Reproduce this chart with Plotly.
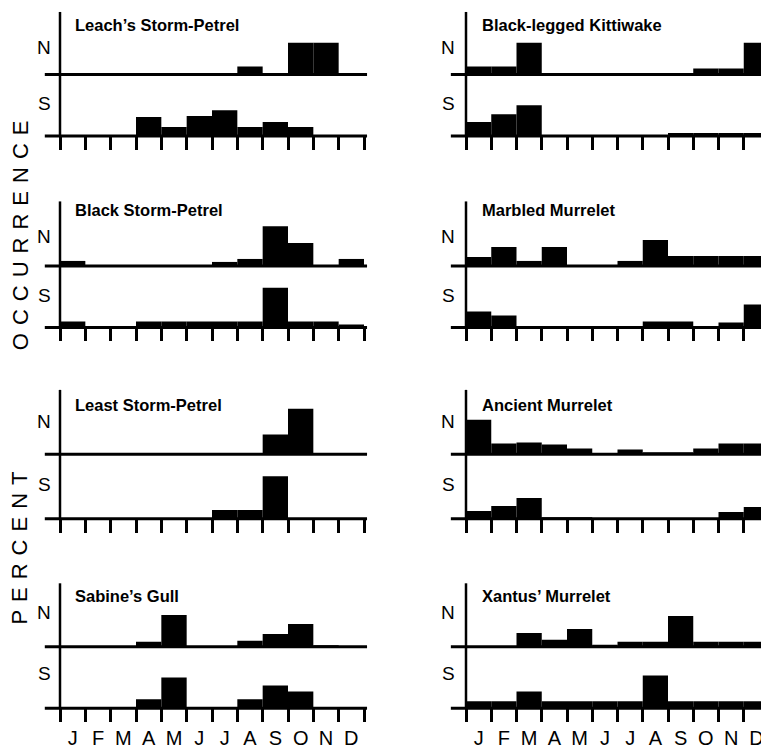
import plotly.graph_objects as go

# ---------------- data (approximate percent occurrence per month) ----------------
months = ["J", "F", "M", "A", "M", "J", "J", "A", "S", "O", "N", "D"]

species_left = ["Leach’s Storm-Petrel", "Black Storm-Petrel", "Least Storm-Petrel", "Sabine’s Gull"]
species_right = ["Black-legged Kittiwake", "Marbled Murrelet", "Ancient Murrelet", "Xantus’ Murrelet"]

leach_n = [0, 0, 0, 0, 0, 0, 0, 8, 0, 32, 32, 0]
leach_s = [0, 0, 0, 19, 9, 20, 26, 9, 14, 9, 0, 0]
black_sp_n = [5, 0, 0, 0, 0, 0, 4, 7, 40, 23, 0, 7]
black_sp_s = [6, 0, 0, 6, 6, 6, 6, 6, 40, 6, 6, 3]
least_n = [0, 0, 0, 0, 0, 0, 0, 0, 20, 46, 0, 0]
least_s = [0, 0, 0, 0, 0, 0, 9, 9, 43, 0, 0, 0]
sabine_n = [0, 0, 0, 5, 32, 0, 0, 6, 13, 23, 1, 0]
sabine_s = [0, 0, 0, 9, 31, 0, 0, 9, 23, 17, 0, 0]

kittiwake_n = [8, 8, 32, 0, 0, 0, 0, 0, 0, 6, 6, 32]
kittiwake_s = [14, 22, 31, 0, 0, 0, 0, 0, 3, 3, 3, 3]
marbled_n = [9, 19, 5, 19, 0, 0, 5, 26, 10, 10, 10, 10]
marbled_s = [16, 12, 1, 1, 1, 1, 1, 6, 6, 0, 5, 23]
ancient_n = [35, 11, 12, 10, 6, 1, 5, 2, 2, 6, 11, 11]
ancient_s = [8, 13, 21, 1, 1, 0, 0, 0, 0, 0, 7, 12]
xantus_n = [0, 0, 14, 7, 18, 2, 5, 5, 31, 5, 5, 5]
xantus_s = [7, 7, 17, 7, 7, 7, 7, 33, 7, 7, 7, 7]

left_n = [leach_n, black_sp_n, least_n, sabine_n]
left_s = [leach_s, black_sp_s, least_s, sabine_s]
right_n = [kittiwake_n, marbled_n, ancient_n, xantus_n]
right_s = [kittiwake_s, marbled_s, ancient_s, xantus_s]

# ---------------- layout geometry (page pixels) ----------------
PAGE_W, PAGE_H = 769, 749
OFF = 8                       # default page margin around the plot div
W, H = PAGE_W - OFF, PAGE_H - OFF
FONT = "Liberation Sans, Arial, Helvetica, sans-serif"


def px(p):
    return (p - OFF) / W


def py(p):
    return 1 - (p - OFF) / H


col_x = [(60, 364), (466, 769)]
panel_top = [12, 203, 393, 588]
n_base = [75, 268, 458, 652]
s_base = [137, 330, 523, 714]
n_lab_y = [48, 238, 425, 617]
s_lab_y = [104, 298, 488, 679]
title_y = [25.5, 211.5, 408.5, 600.5]
title_x = [73, 480]
ns_x = [44, 448]

centers = [i + 0.5 for i in range(12)]

fig = go.Figure()
layout = dict(
    width=W, height=H, margin=dict(l=0, r=0, t=0, b=0),
    paper_bgcolor="white", plot_bgcolor="white", showlegend=False,
    font=dict(family=FONT, color="black"),
)
shapes = []
annotations = []

k = 0
for c in range(2):
    names = species_left if c == 0 else species_right
    nvals = left_n if c == 0 else right_n
    svals = left_s if c == 0 else right_s
    x0p, x1p = col_x[c]
    xdom = [px(x0p), min(px(x1p), 1.0)]
    for r in range(4):
        for half in range(2):
            k += 1
            sfx = "" if k == 1 else str(k)
            if half == 0:
                top, base, vals = panel_top[r], n_base[r], nvals[r]
            else:
                top, base, vals = n_base[r], s_base[r], svals[r]
            ydom = [py(base), py(top)]
            fig.add_trace(go.Bar(
                x=centers, y=vals, width=1.0,
                marker=dict(color="black", line=dict(width=0)),
                xaxis=f"x{sfx}", yaxis=f"y{sfx}", hoverinfo="skip",
            ))
            xa = dict(domain=xdom, range=[0, 12], anchor=f"y{sfx}",
                      showgrid=False, zeroline=False, showline=False,
                      fixedrange=True)
            if half == 1:
                xa.update(
                    tickmode="array", tickvals=centers,
                    ticktext=months if r == 3 else [""] * 12,
                    ticks="outside", ticklen=12, tickcolor="rgba(0,0,0,0)",
                    tickfont=dict(size=20, family=FONT, color="black"),
                    minor=dict(tickmode="linear", tick0=0, dtick=1,
                               ticks="outside", ticklen=13, tickwidth=2.5,
                               tickcolor="black", showgrid=False),
                )
            else:
                xa.update(showticklabels=False, ticks="")
            ya = dict(domain=ydom, range=[0, base - top], anchor=f"x{sfx}",
                      showgrid=False, zeroline=False, showline=False,
                      showticklabels=False, ticks="", fixedrange=True)
            layout[f"xaxis{sfx}"] = xa
            layout[f"yaxis{sfx}"] = ya
            # baseline
            shapes.append(dict(type="line", xref=f"x{sfx} domain", yref=f"y{sfx} domain",
                               x0=-0.05, x1=1.01, y0=0, y1=0,
                               line=dict(color="black", width=3)))
            # vertical axis
            shapes.append(dict(type="line", xref=f"x{sfx} domain", yref=f"y{sfx} domain",
                               x0=0, x1=0, y0=0, y1=1,
                               line=dict(color="black", width=2.5)))
        # species title
        annotations.append(dict(text=names[r], x=px(title_x[c]), y=py(title_y[r]),
                                xref="paper", yref="paper", xanchor="left", yanchor="middle",
                                showarrow=False,
                                font=dict(size=16.5, family=FONT, color="black", weight="bold")))
        annotations.append(dict(text="N", x=px(ns_x[c]), y=py(n_lab_y[r]),
                                xref="paper", yref="paper", xanchor="center", yanchor="middle",
                                showarrow=False, font=dict(size=19, family=FONT, color="black")))
        annotations.append(dict(text="S", x=px(ns_x[c]), y=py(s_lab_y[r]),
                                xref="paper", yref="paper", xanchor="center", yanchor="middle",
                                showarrow=False, font=dict(size=19, family=FONT, color="black")))

# vertical axis title, in two parts
annotations.append(dict(text='<span style="letter-spacing:8px">OCCURRENCE</span>',
                        x=px(20), y=py(233), xref="paper", yref="paper",
                        textangle=-90, showarrow=False, xanchor="center", yanchor="middle",
                        font=dict(size=22, family=FONT, color="black")))
annotations.append(dict(text='<span style="letter-spacing:8px">PERCENT</span>',
                        x=px(20), y=py(549), xref="paper", yref="paper",
                        textangle=-90, showarrow=False, xanchor="center", yanchor="middle",
                        font=dict(size=22, family=FONT, color="black")))

layout["shapes"] = shapes
layout["annotations"] = annotations
fig.update_layout(**layout)
fig.write_html("out.html")
